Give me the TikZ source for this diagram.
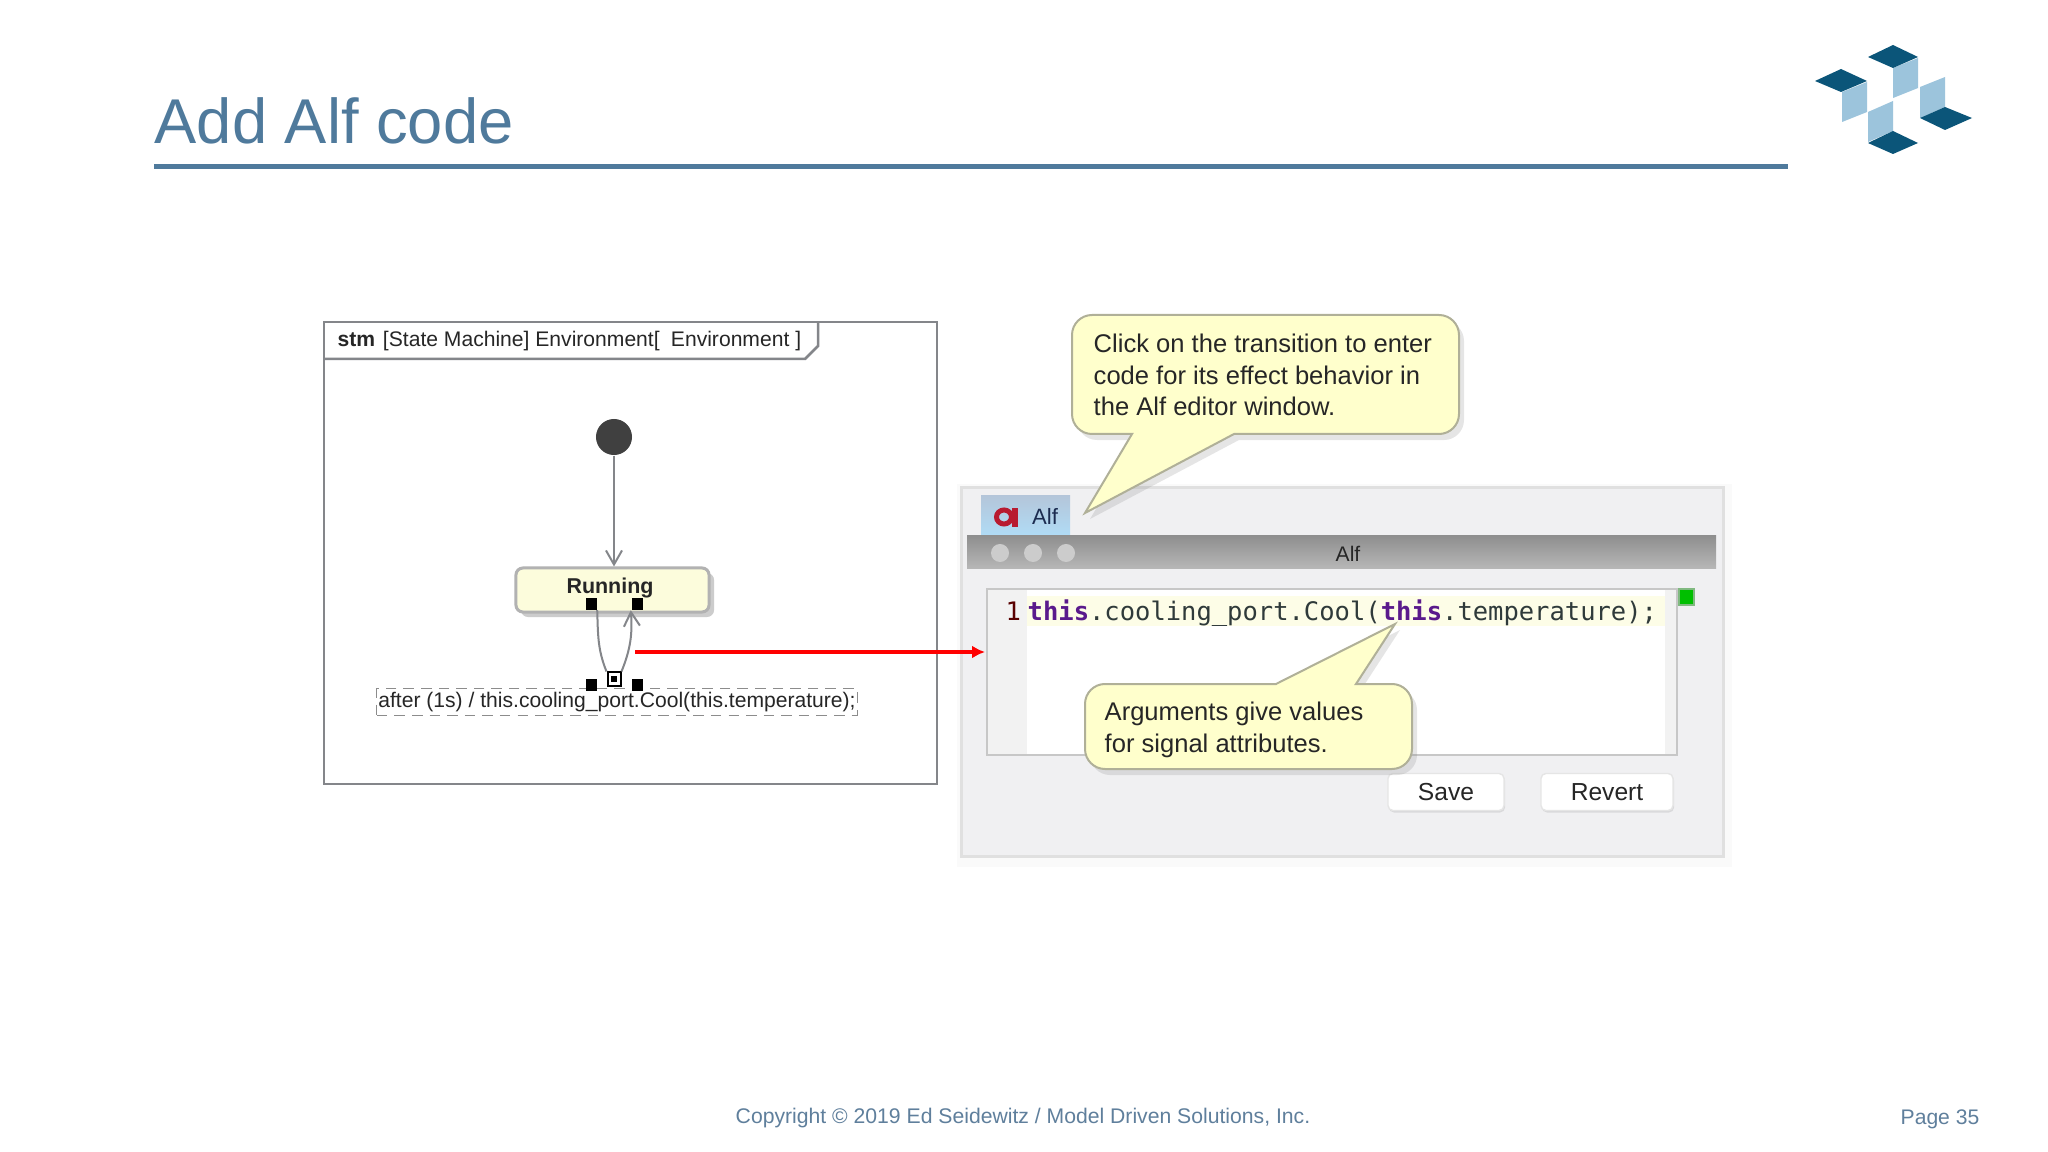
\documentclass[tikz,border=0pt]{standalone}
\usepackage{fontspec}
\setmainfont{Liberation Sans}
\newfontfamily\codefont{DejaVu Sans Mono}
\usetikzlibrary{arrows.meta,positioning,shadows}
\definecolor{titleblue}{HTML}{4F7A9C}
\definecolor{footblue}{HTML}{5F7F9C}
\definecolor{logodark}{HTML}{0B5579}
\definecolor{logolight}{HTML}{9CC4DC}
\definecolor{framegray}{HTML}{84868A}
\definecolor{notefill}{HTML}{FFFFCC}
\definecolor{notedraw}{HTML}{B0B098}
\definecolor{statefill}{HTML}{FCFCDC}
\definecolor{chrome}{HTML}{F0F0F2}
\definecolor{keyword}{HTML}{5A1A8C}
\definecolor{codetext}{HTML}{2F3A3A}
\definecolor{diagramtext}{HTML}{262626}
\definecolor{tabtop}{HTML}{B4C6DA}
\definecolor{tabmid}{HTML}{8DB8E6}
\definecolor{tabbottom}{HTML}{B0DCF6}
\definecolor{tabtext}{HTML}{1C2C50}
\definecolor{iconred}{HTML}{B81A30}

\begin{document}
\begin{tikzpicture}[x=0.01cm, y=-0.01cm,
textnode/.style={inner sep=0pt, text=diagramtext, font=\fontsize{6}{7.5}\selectfont},
notetext/.style={inner sep=0pt, anchor=west, align=left, text=diagramtext, font=\fontsize{7.27}{8.9}\selectfont},
note/.style={fill=notefill, draw=notedraw, line width=.02cm, drop shadow={shadow xshift=.05cm, shadow yshift=-.06cm, opacity=.2}},
handle/.style={fill=black, inner sep=0pt, minimum size=.11cm},
barb/.style={-{Straight Barb[length=.14cm, width=.16cm]}, draw=framegray, line width=.02cm},
buttonbox/.style={fill=white, draw=black!10, rounded corners=.05cm, minimum height=.37cm, inner sep=0pt, text=diagramtext, font=\fontsize{7}{8}\selectfont, drop shadow={shadow xshift=.01cm, shadow yshift=-.02cm, opacity=.2}},
codeline/.style={inner sep=0pt, anchor=base west, text=codetext, font=\fontsize{7.25}{9}\codefont}]

\useasboundingbox (0,0) rectangle (2048,1152);
\fill[white] (0,0) rectangle (2048,1152);

% title
\node[inner sep=0pt, anchor=base west, text=titleblue, font=\fontsize{18}{20}\selectfont] (title) at (154,144) {Add Alf code};
\fill[titleblue] (154,164) rectangle (1788,169);

% logo
\fill[logolight] (1893,68) -- (1918,58) -- (1918,88) -- (1893,98) -- cycle;
\fill[logolight] (1842,92) -- (1867,82) -- (1867,112) -- (1842,122) -- cycle;
\fill[logolight] (1868,112) -- (1893,101) -- (1893,131) -- (1868,142) -- cycle;
\fill[logolight] (1920,87) -- (1945,77) -- (1945,107) -- (1920,118) -- cycle;
\fill[logodark] (1868,57) -- (1893,45) -- (1918,57) -- (1893,68) -- cycle;
\fill[logodark] (1815,81) -- (1841,69) -- (1867,81) -- (1841,92) -- cycle;
\fill[logodark] (1920,118) -- (1945,107) -- (1972,118) -- (1945,130) -- cycle;
\fill[logodark] (1868,143) -- (1893,131) -- (1918,143) -- (1893,154) -- cycle;

% state machine frame
\draw[framegray, line width=.025cm] (324,322) rectangle (937,784);
\draw[framegray, line width=.025cm] (324,359) -- (805,359) -- (818,346) -- (818,322);
\node[textnode, anchor=west] (stm) at (337,341.5) {\textbf{stm}\hspace{2.2pt}[State Machine] Environment[\hspace{3.2pt}Environment ]};

% initial state and Running
\node[circle, fill=black!75, inner sep=0pt, minimum size=.36cm] (init) at (614,437) {};
\node[fill=statefill, draw=black!30, line width=.03cm, rounded corners=.07cm, minimum width=1.93cm, minimum height=.44cm, inner sep=0pt, drop shadow={shadow xshift=.05cm, shadow yshift=-.05cm, opacity=.4}] (running) at (612.5,590) {};
\node[inner sep=0pt, text=diagramtext, font=\fontsize{6.1}{8}\bfseries] (runninglabel) at (610,588) {Running};
\draw[barb] (init) -- (init |- running.north);

% effect label
\node[draw=black!45, densely dashed, line width=.01cm, minimum width=4.8cm, minimum height=.26cm, inner sep=0pt, text=diagramtext, font=\fontsize{6}{7.5}\selectfont] (effect) at (617,702) {after (1s) / this.cooling\_port.Cool(this.temperature);};

% handles
\node[handle] (h1) at (591,604) {};
\node[handle] (h2) at (637,604) {};
\node[handle] (h3) at (591,685) {};
\node[handle] (h4) at (637,685) {};
\node[fill=white, draw=black, line width=.02cm, inner sep=0pt, minimum size=.13cm] (hmid) at (614,679) {};
\node[fill=black, inner sep=0pt, minimum size=.06cm] (hdot) at (hmid) {};

% transition
\draw[framegray, line width=.02cm] (h1.south east) to[out=-88, in=112] (hmid.north west);
\draw[barb] (hmid.north east) to[out=68, in=-86] (h2.south west);

% alf window
\fill[black!2] (957,484) rectangle (1732,867);
\fill[chrome, draw=black!12, line width=.03cm] (961,488) rectangle (1723,856);
\shade[top color=tabtop, middle color=tabmid, bottom color=tabbottom] (981,496) rectangle (1070,536);
\draw[iconred, line width=.05cm] (1004,517) ellipse (7.5 and 7);
\fill[iconred] (1012,508) rectangle (1018,527);
\node[inner sep=0pt, font=\fontsize{6.3}{8}\selectfont, text=tabtext] (alftab) at (1045,516) {Alf};
\shade[top color=black!44, bottom color=black!28] (967,536) rectangle (1716,569);
\foreach \i/\x in {1/1000,2/1033,3/1066}
	\node[circle, fill=black!20, inner sep=0pt, minimum size=.18cm] (dot\i) at (\x,553) {};
\node[inner sep=0pt, font=\fontsize{6}{8}\selectfont, text=black!85] (alftitle) at (1348,554) {Alf};

% editor
\draw[black!22, line width=.02cm, fill=black!5] (987,589) rectangle (1677,755);
\fill[white] (1027,590) rectangle (1665,754);
\fill[statefill!70] (1027,596) rectangle (1665,626);
\node[fill=green!75!black, draw=green!45!black!50, line width=.02cm, inner sep=0pt, minimum size=.15cm] (marker) at (1686,597) {};
\node[codeline, text=red!35!black] (linenum) at (1005,620) {1};
\node[codeline] (code) at (1027,620) {\textcolor{keyword}{\bfseries this}.cooling\_port.Cool(\textcolor{keyword}{\bfseries this}.temperature);};
\node[buttonbox, minimum width=1.16cm] (save) at (1446,792) {Save};
\node[buttonbox, minimum width=1.32cm] (revert) at (1607,792) {Revert};

% red arrow
\coordinate (redstart) at (635,652);
\coordinate (redend) at (985,652);
\draw[red, line width=.04cm, -{Latex[length=.13cm, width=.13cm]}] (redstart) -- (redend);

% notes
\path[note] (1085,513) -- (1132,434) [rounded corners=.2cm] -- (1072,434) -- (1072,315) -- (1459,315) -- (1459,434) [sharp corners] -- (1234,434) -- cycle;
\node[notetext] (clicknote) at (1093,375) {Click on the transition to enter\\code for its effect behavior in\\the Alf editor window.};

\path[note] (1395,624) -- (1276,684) [rounded corners=.2cm] -- (1085,684) -- (1085,769) -- (1412,769) -- (1412,684) [sharp corners] -- (1356,684) -- cycle;
\node[notetext] (argnote) at (1104,730) {Arguments give values\\for signal attributes.};

% footer
\node[inner sep=0pt, text=footblue, font=\fontsize{6.02}{7}\selectfont] (copyright) at (1023,1118) {Copyright © 2019 Ed Seidewitz / Model Driven Solutions, Inc.};
\node[inner sep=0pt, anchor=east, text=footblue, font=\fontsize{6}{7}\selectfont] (page) at (1980,1119) {Page 35};
\end{tikzpicture}
\end{document}
